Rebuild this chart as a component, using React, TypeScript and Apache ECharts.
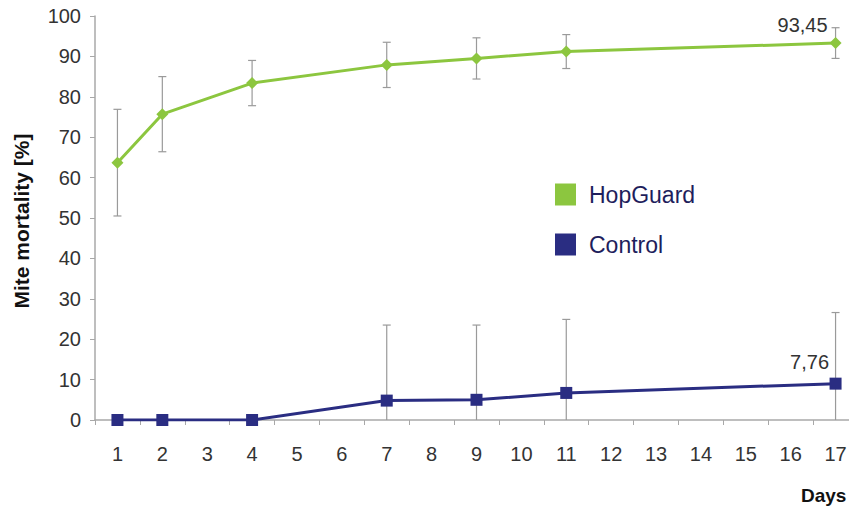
import React, { useEffect, useRef } from "react";
import * as echarts from "echarts";

const dayCategories = ["1", "2", "3", "4", "5", "6", "7", "8", "9", "10", "11", "12", "13", "14", "15", "16", "17"];
const sampleDays = ["1", "2", "4", "7", "9", "11", "17"];
const hopGuard = [63.7, 75.7, 83.4, 87.9, 89.5, 91.2, 93.3];
const hopGuardErr = [13.2, 9.3, 5.6, 5.6, 5.1, 4.2, 3.8];
const control = [0, 0, 0, 4.8, 5.0, 6.7, 9.0];
const controlErr = [0, 0, 0, 18.7, 18.5, 18.2, 17.6];
const hopGuardEndLabel = "93,45";
const controlEndLabel = "7,76";

const GREEN = "#8cc63f";
const NAVY = "#2a2d82";
const FONT = "Liberation Sans, Arial, sans-serif";

export default function App() {
  const ref = useRef<HTMLDivElement>(null);

  useEffect(() => {
    if (!ref.current) return;
    document.body.style.margin = "0";
    const chart = echarts.init(ref.current, undefined, { renderer: "svg" });

    const idx = (d: string) => dayCategories.indexOf(d);
    const last = sampleDays.length - 1;

    const lineData = (vals: number[], endLabel: string, offset: number[]) =>
      vals.map((v, i) => ({
        value: [idx(sampleDays[i]), v],
        label:
          i === last
            ? {
                show: true,
                formatter: endLabel,
                position: "top",
                offset,
                fontSize: 20,
                color: "#333",
                fontFamily: FONT,
              }
            : { show: false },
      }));

    const errData = (vals: number[], errs: number[]) =>
      vals
        .map((v, i) => [idx(sampleDays[i]), v - errs[i], v + errs[i]])
        .filter((_, i) => errs[i] > 0);

    const renderErr = (params: any, api: any) => {
      const x = api.value(0);
      const lo = api.coord([x, api.value(1)]);
      const hi = api.coord([x, api.value(2)]);
      const cap = 4;
      const style = { stroke: "#9a9a9a", lineWidth: 1.2 };
      return {
        type: "group",
        children: [
          { type: "line", shape: { x1: hi[0], y1: hi[1], x2: lo[0], y2: lo[1] }, style },
          { type: "line", shape: { x1: hi[0] - cap, y1: hi[1], x2: hi[0] + cap, y2: hi[1] }, style },
          { type: "line", shape: { x1: lo[0] - cap, y1: lo[1], x2: lo[0] + cap, y2: lo[1] }, style },
        ],
      };
    };

    chart.setOption({
      animation: false,
      backgroundColor: "#ffffff",
      textStyle: { fontFamily: FONT },
      grid: { left: 95, top: 16, right: 2, bottom: 88, containLabel: false },
      legend: {
        orient: "vertical",
        left: 550,
        top: 178,
        itemWidth: 21,
        itemHeight: 22,
        itemGap: 27,
        icon: "rect",
        textStyle: { fontSize: 23, color: "#1e1e5c", fontFamily: FONT, padding: [0, 0, 0, 8] },
        data: ["HopGuard", "Control"],
      },
      xAxis: {
        type: "category",
        data: dayCategories,
        boundaryGap: true,
        axisLine: { lineStyle: { color: "#a8a8a8", width: 1.5 } },
        axisTick: { show: true, length: 5, lineStyle: { color: "#a8a8a8" } },
        axisLabel: { fontSize: 20, color: "#333", margin: 24, fontFamily: FONT },
        splitLine: { show: false },
      },
      yAxis: {
        type: "value",
        min: 0,
        max: 100,
        interval: 10,
        axisLine: { show: true, lineStyle: { color: "#a8a8a8", width: 1.5 } },
        axisTick: { show: true, length: 5, lineStyle: { color: "#a8a8a8" } },
        axisLabel: { fontSize: 20, color: "#333", margin: 14, fontFamily: FONT },
        splitLine: { show: false },
      },
      graphic: [
        {
          type: "text",
          x: 21,
          y: 221,
          rotation: Math.PI / 2,
          style: {
            text: "Mite mortality [%]",
            font: "bold 21px " + FONT,
            fill: "#111",
            align: "center",
            verticalAlign: "middle",
          },
        },
        {
          type: "text",
          x: 801,
          y: 495,
          style: {
            text: "Days",
            font: "bold 19px " + FONT,
            fill: "#111",
            align: "left",
            verticalAlign: "middle",
          },
        },
      ],
      series: [
        {
          type: "custom",
          name: "hopErr",
          renderItem: renderErr,
          data: errData(hopGuard, hopGuardErr),
          clip: true,
          z: 1,
          silent: true,
        },
        {
          type: "custom",
          name: "ctrlErr",
          renderItem: renderErr,
          data: errData(control, controlErr),
          clip: true,
          z: 1,
          silent: true,
        },
        {
          type: "line",
          name: "HopGuard",
          data: lineData(hopGuard, hopGuardEndLabel, [-33, 3]),
          symbol: "diamond",
          symbolSize: 12,
          color: GREEN,
          lineStyle: { color: GREEN, width: 3 },
          itemStyle: { color: GREEN },
          z: 3,
        },
        {
          type: "line",
          name: "Control",
          data: lineData(control, controlEndLabel, [-26, -1]),
          symbol: "rect",
          symbolSize: 12,
          color: NAVY,
          lineStyle: { color: NAVY, width: 3 },
          itemStyle: { color: NAVY },
          z: 3,
        },
      ],
    });

    return () => chart.dispose();
  }, []);

  return (
    <div style={{ width: 849, height: 508, overflow: "hidden", position: "relative" }}>
      <div ref={ref} style={{ width: 860, height: 508 }} />
    </div>
  );
}
